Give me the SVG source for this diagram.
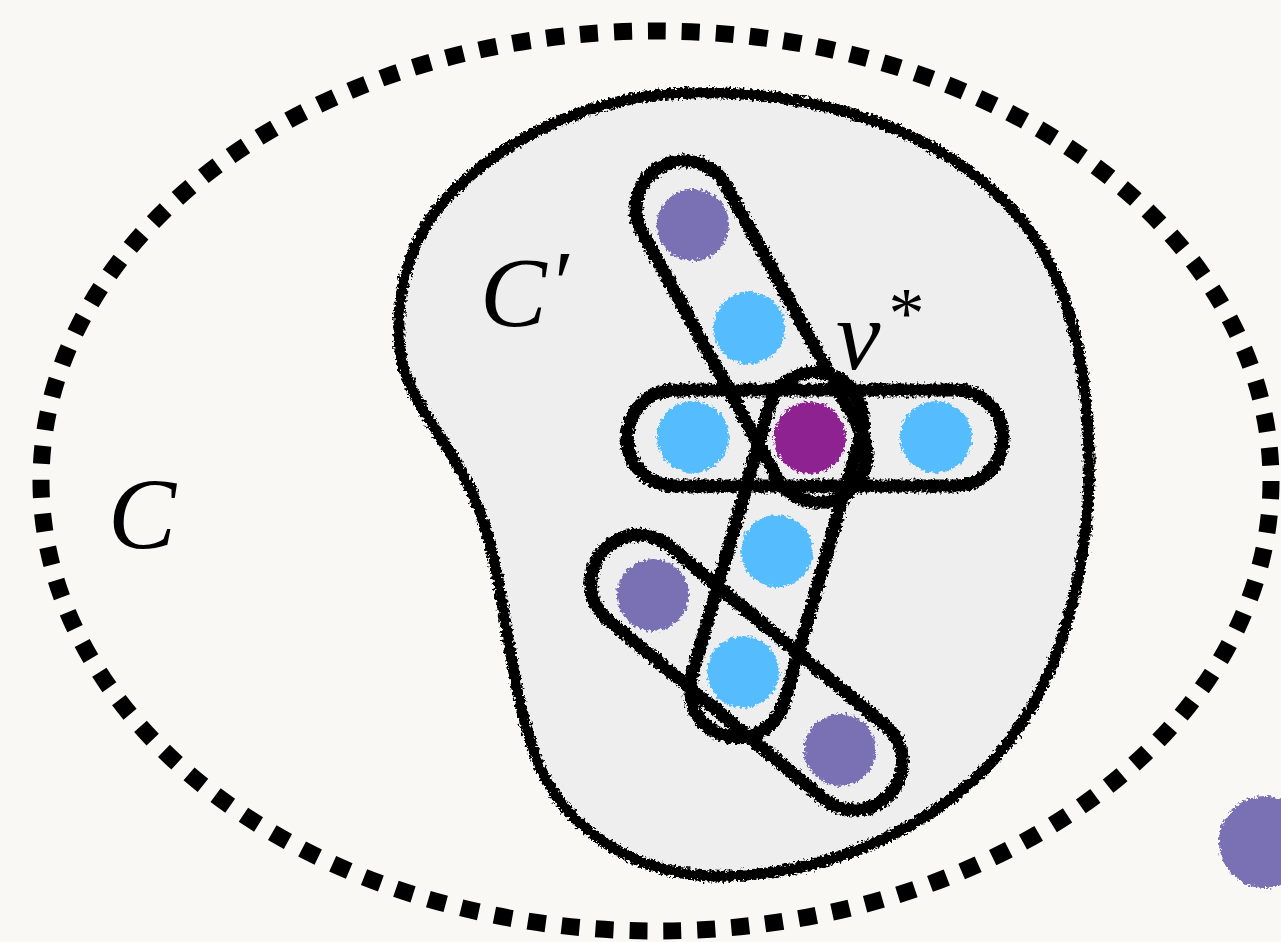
<svg xmlns="http://www.w3.org/2000/svg" width="1281" height="942" viewBox="0 0 1281 942">
<style>
.pill{fill:none;stroke:#000;stroke-width:13}
.blob{fill:#eeeeee;stroke:#000;stroke-width:11}
.purple{fill:#7a6fb4}
.blue{fill:#55bdfd}
.star{fill:#8e2090}
.lbl{font-family:"Liberation Serif","DejaVu Serif",serif;font-style:italic;fill:#000}
</style>
<defs>
<filter id="rough" x="-15%" y="-15%" width="130%" height="130%">
<feTurbulence type="fractalNoise" baseFrequency="0.35" numOctaves="2" seed="4" result="n"/>
<feDisplacementMap in="SourceGraphic" in2="n" scale="8" xChannelSelector="R" yChannelSelector="G"/>
</filter>
</defs>
<rect width="1281" height="942" fill="#f9f8f4"/>
<g id="C">
<ellipse cx="656" cy="481" rx="615" ry="450" fill="none" stroke="#000" stroke-width="17" stroke-dasharray="18 16"/>
<text class="lbl" x="108" y="549" font-size="102">C</text>
</g>
<g id="Cprime">
<path class="blob" filter="url(#rough)" d="M690,93 C590,95 500,140 445,200 C405,245 395,300 400,350 C405,400 450,440 475,500 C505,570 505,660 530,740 C555,830 640,880 730,876 C840,872 950,820 1010,740 C1070,660 1095,540 1088,430 C1082,330 1058,250 998,195 C918,120 800,90 690,93 Z"/>
<text class="lbl" x="480" y="326" font-size="100">C<tspan font-size="90" dx="2" dy="-12">′</tspan></text>
</g>
<g id="hyperedges" filter="url(#rough)">
<rect class="pill" x="627" y="390" width="376" height="96" rx="48"/>
<rect class="pill" x="-188" y="-48" width="376" height="96" rx="48" transform="translate(751.5,331.5) rotate(61.2)"/>
<rect class="pill" x="-188" y="-48" width="376" height="96" rx="48" transform="translate(776.5,555) rotate(106)"/>
<rect class="pill" x="-188" y="-48" width="376" height="96" rx="48" transform="translate(746.5,672.5) rotate(39.7)"/>
</g>
<g id="nodes" filter="url(#rough)">
<circle id="n1" class="purple" cx="693" cy="225" r="36"/>
<circle id="n2" class="blue" cx="749" cy="328" r="36"/>
<circle id="n3" class="blue" cx="693" cy="437" r="36"/>
<circle id="vstar" class="star" cx="810" cy="438" r="36"/>
<circle id="n4" class="blue" cx="936" cy="437" r="36"/>
<circle id="n5" class="blue" cx="777" cy="551" r="36"/>
<circle id="n6" class="purple" cx="653" cy="595" r="36"/>
<circle id="n7" class="blue" cx="743" cy="672" r="36"/>
<circle id="n8" class="purple" cx="840" cy="750" r="36"/>
<circle id="n9" class="purple" cx="1265" cy="842" r="46"/>
</g>
<g id="vlabel">
<text class="lbl" x="836" y="369" font-size="100">v<tspan font-size="72" dx="8" dy="-32" font-style="normal">*</tspan></text>
</g>
</svg>
